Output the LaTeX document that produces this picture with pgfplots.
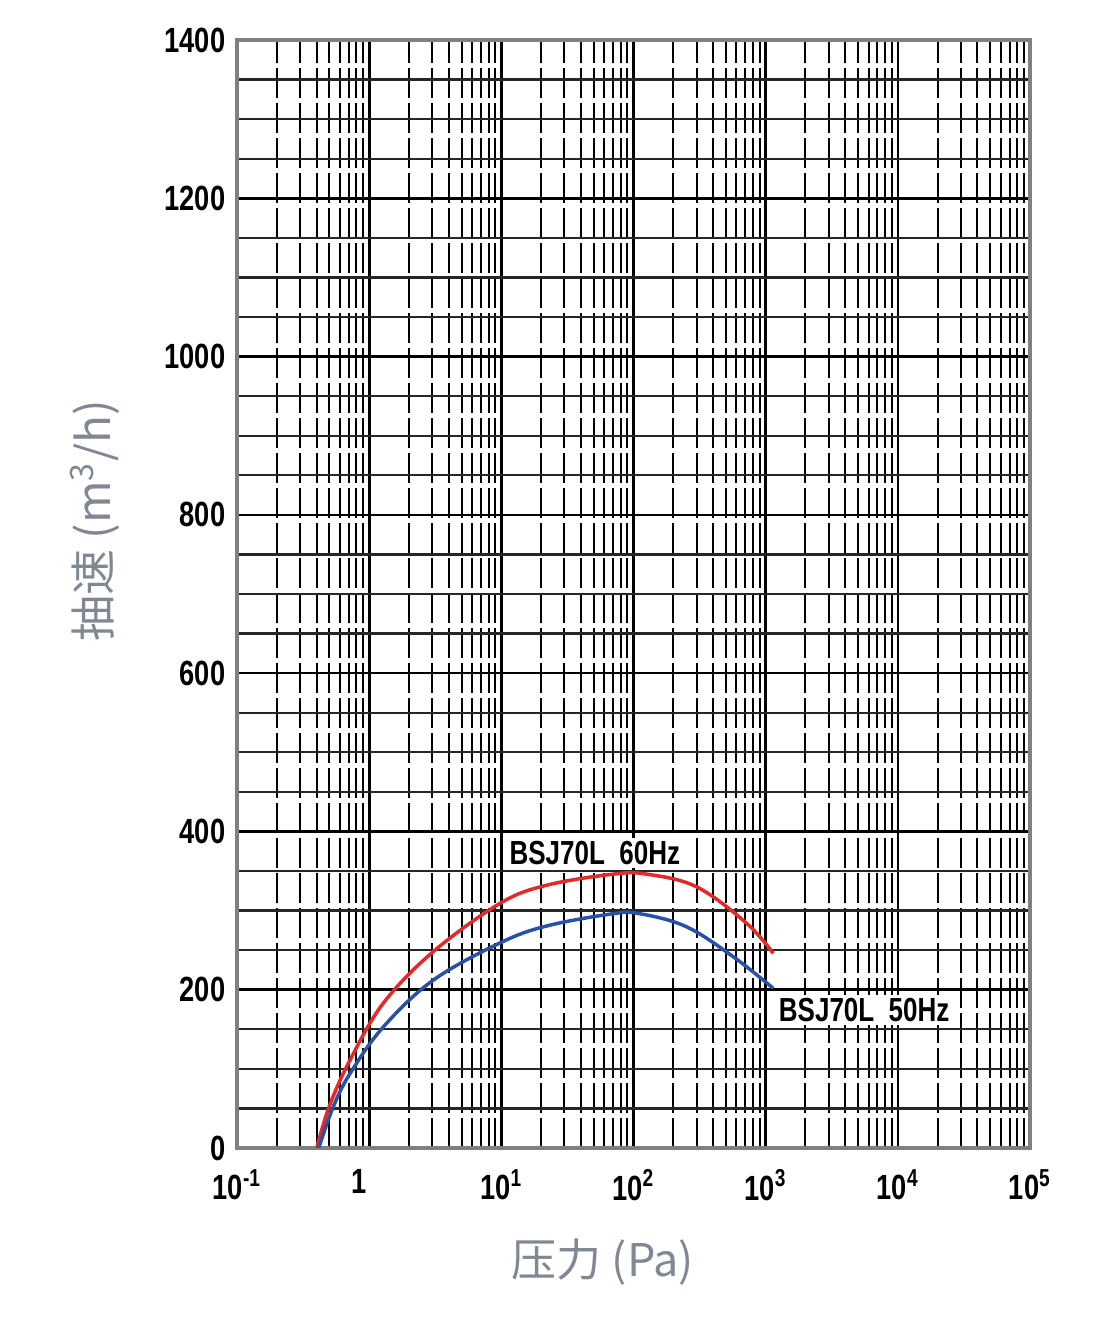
\documentclass[border=0pt]{standalone}
\usepackage{pgfplots}
\pgfplotsset{compat=1.18}
\usepackage{fontspec}
\setmainfont{Liberation Sans}
\newfontfamily\cjk{Noto Sans CJK SC}
\usepackage{graphicx}
\definecolor{labgray}{RGB}{128,136,148}
\definecolor{cred}{RGB}{226,42,42}
\definecolor{cblue}{RGB}{40,82,165}
\newcommand\nb[1]{\scalebox{0.78}[1]{\bfseries #1}}
\begin{document}
\begin{tikzpicture}
\useasboundingbox (-71.1pt,-55.8pt) rectangle (261.6pt,344.4pt);
\begin{axis}[
  at={(0,0)}, anchor=south west,
  scale only axis, width=237.9pt, height=332.4pt,
  xmode=log, xmin=0.1, xmax=100000, ymin=0, ymax=1400,
  xtick={0.1,1,10,100,1000,10000,100000},
  xticklabels={\nb{10\textsuperscript{-1}},\nb{\kern-7.5pt 1},\nb{10\textsuperscript{1}},\nb{10\textsuperscript{2}},\nb{10\textsuperscript{3}},\nb{10\textsuperscript{4}},\nb{10\textsuperscript{5}}},
  minor xtick={0.2,0.3,0.4,0.5,0.6,0.7,0.8,0.9,2,3,4,5,6,7,8,9,20,30,40,50,60,70,80,90,200,300,400,500,600,700,800,900,2000,3000,4000,5000,6000,7000,8000,9000,20000,30000,40000,50000,60000,70000,80000,90000},
  ytick={0,200,400,600,800,1000,1200,1400},
  yticklabels={\nb{0},\nb{200},\nb{400},\nb{600},\nb{800},\nb{1000},\nb{1200},\nb{1400}},
  minor ytick={50,100,...,1350},
  grid=both,
  major x grid style={black, line width=0.8pt},
  minor x grid style={black, line width=0.6pt, dash pattern=on 9pt off 1.5pt},
  major y grid style={black, line width=0.8pt},
  minor y grid style={black!85, line width=0.7pt},
  major tick length=0pt, minor tick length=0pt,
  tick label style={font=\fontsize{10.5}{12}\selectfont},
  xticklabel style={yshift=-3pt},
  axis line style={draw=gray, line width=1.2pt},
  xlabel={\cjk 压力 (Pa)},
  xlabel style={at={(axis description cs:0.4615,-0.1029)}, anchor=center, font=\fontsize{13.5}{15}\selectfont, text=labgray},
  ylabel={\cjk 抽速 (m\textsuperscript{3}/h)},
  ylabel style={at={(axis description cs:-0.179,0.566)}, anchor=center, font=\fontsize{13.8}{15}\selectfont, text=labgray},
]
\addplot[cred, line width=1.05pt, smooth, tension=0.6] coordinates {
 (0.401,0) (0.5,53) (0.716,111) (1.28,183) (3.05,248) (9.75,309) (22,332)
 (70,346) (126,346) (300,330) (716,284) (1140,246)
};
\addplot[cblue, line width=1.05pt, smooth, tension=0.6] coordinates {
 (0.415,0) (0.535,52) (0.716,94) (1.28,153) (3.05,212) (9.75,259) (22,280.5)
 (70,296) (112,296) (251,279.6) (568,241.7) (1140,201.8)
};
\node[fill=white, inner sep=1pt, anchor=center, font=\fontsize{10}{12}\selectfont] at (axis cs:51,373) {\nb{BSJ70L\ \ 60Hz}};
\node[fill=white, inner sep=1pt, anchor=west, font=\fontsize{10}{12}\selectfont] at (axis cs:1175,174) {\nb{BSJ70L\ \ 50Hz}};
\end{axis}
\end{tikzpicture}
\end{document}
